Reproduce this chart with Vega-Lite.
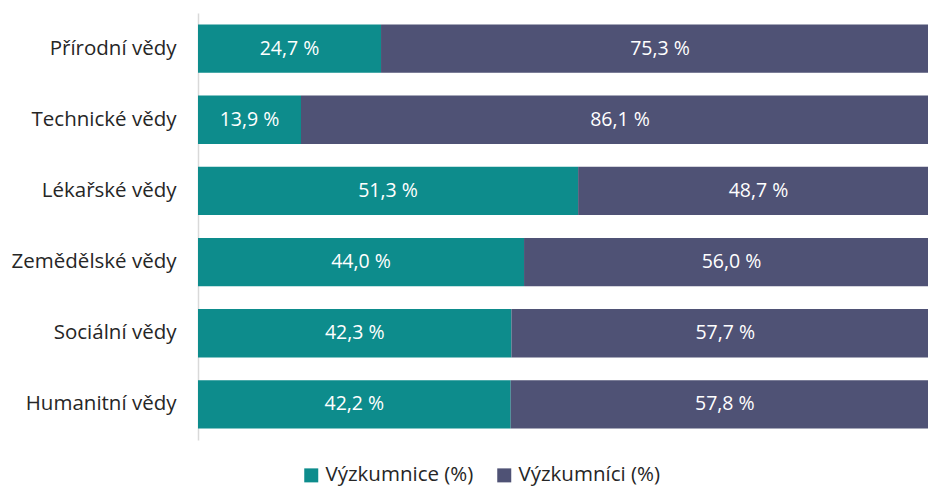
{
  "$schema": "https://vega.github.io/schema/vega-lite/v6.json",
  "width": 741,
  "height": 427,
  "padding": {"left": 0, "top": 13, "right": 0, "bottom": 0},
  "autosize": {"type": "pad"},
  "background": "white",
  "config": {
    "view": {"stroke": null},
    "font": "Open Sans"
  },
  "data": {
    "values": [
      {"obor": "Přírodní vědy", "skupina": "Výzkumnice (%)", "v": 24.7},
      {"obor": "Přírodní vědy", "skupina": "Výzkumníci (%)", "v": 75.3},
      {"obor": "Technické vědy", "skupina": "Výzkumnice (%)", "v": 13.9},
      {"obor": "Technické vědy", "skupina": "Výzkumníci (%)", "v": 86.1},
      {"obor": "Lékařské vědy", "skupina": "Výzkumnice (%)", "v": 51.3},
      {"obor": "Lékařské vědy", "skupina": "Výzkumníci (%)", "v": 48.7},
      {"obor": "Zemědělské vědy", "skupina": "Výzkumnice (%)", "v": 44.0},
      {"obor": "Zemědělské vědy", "skupina": "Výzkumníci (%)", "v": 56.0},
      {"obor": "Sociální vědy", "skupina": "Výzkumnice (%)", "v": 42.3},
      {"obor": "Sociální vědy", "skupina": "Výzkumníci (%)", "v": 57.7},
      {"obor": "Humanitní vědy", "skupina": "Výzkumnice (%)", "v": 42.2},
      {"obor": "Humanitní vědy", "skupina": "Výzkumníci (%)", "v": 57.8}
    ]
  },
  "transform": [
    {"calculate": "replace(format(datum.v, '.1f'), '.', ',') + ' %'", "as": "label"}
  ],
  "encoding": {
    "y": {
      "field": "obor",
      "type": "nominal",
      "sort": null,
      "scale": {"paddingInner": 0.32, "paddingOuter": 0.16},
      "axis": {
        "title": null,
        "ticks": false,
        "domainColor": "#d9d9d9",
        "domainWidth": 1.5,
        "labelFontSize": 20.5,
        "labelColor": "#262626",
        "labelPadding": 22,
        "minExtent": 198,
        "maxExtent": 198
      }
    },
    "x": {
      "field": "v",
      "type": "quantitative",
      "stack": "zero",
      "scale": {"domain": [0, 100], "nice": false},
      "axis": null
    },
    "order": {"field": "skupina", "type": "nominal", "sort": "ascending"}
  },
  "layer": [
    {
      "mark": {"type": "bar"},
      "encoding": {
        "color": {
          "field": "skupina",
          "type": "nominal",
          "scale": {"domain": ["Výzkumnice (%)", "Výzkumníci (%)"], "range": ["#0d8c8c", "#4f5275"]},
          "legend": {
            "title": null,
            "orient": "none",
            "legendX": 103,
            "legendY": 452,
            "direction": "horizontal",
            "symbolType": "square",
            "symbolSize": 196,
            "symbolStrokeWidth": 0,
            "symbolOffset": 0,
            "labelOffset": 4,
            "labelFontSize": 20.5,
            "labelColor": "#262626",
            "columnPadding": 20
          }
        }
      }
    },
    {
      "mark": {"type": "text", "color": "white", "fontSize": 19.5},
      "encoding": {
        "x": {"field": "v", "type": "quantitative", "stack": "zero", "bandPosition": 0.5},
        "detail": {"field": "skupina", "type": "nominal"},
        "text": {"field": "label", "type": "nominal"}
      }
    }
  ]
}
